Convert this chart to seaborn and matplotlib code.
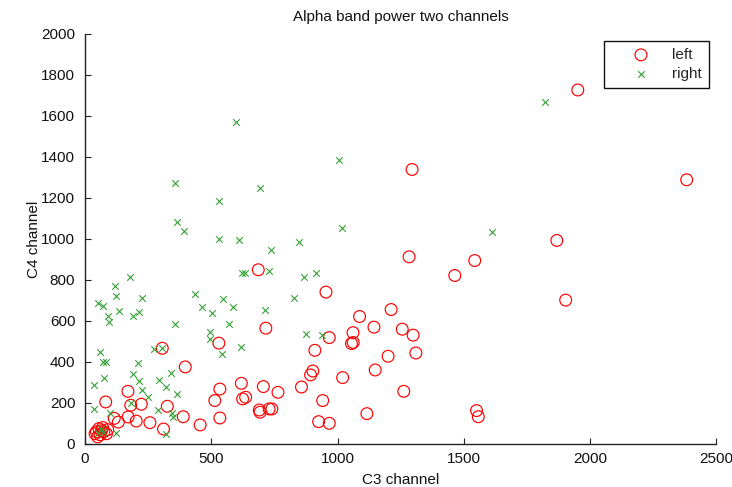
import matplotlib
matplotlib.use("Agg")
import matplotlib.pyplot as plt
import seaborn as sns
import pandas as pd

# Alpha band power per trial: C3 channel (x) vs C4 channel (y)
left_c3 = [1951, 2382, 1295, 1868, 1903, 1543, 1464, 1283, 686, 954,
           1212, 1087, 1144, 1256, 1061, 1299, 967, 716, 1055, 1062,
           910, 1310, 1200, 902, 893, 1149, 1020, 1262, 857, 706,
           764, 941, 690, 693, 729, 740, 1116, 925, 967, 1550,
           1557, 306, 530, 397, 170, 534, 619, 82, 181, 223,
           326, 514, 624, 636, 116, 132, 171, 203, 257, 311,
           389, 456, 534, 45, 55, 60, 70, 75, 85, 50,
           65, 90, 40]
left_c4 = [1727, 1289, 1339, 993, 702, 895, 822, 913, 850, 741,
           656, 622, 570, 560, 543, 531, 519, 565, 490, 495,
           457, 444, 428, 356, 337, 361, 324, 257, 278, 280,
           252, 212, 166, 155, 171, 171, 148, 109, 101, 163,
           133, 467, 492, 376, 257, 268, 296, 205, 189, 194,
           184, 212, 220, 228, 125, 107, 132, 112, 104, 73,
           133, 93, 127, 60, 75, 45, 80, 60, 50, 35,
           65, 70, 50]

right_c3 = [1822, 598, 1004, 357, 693, 530, 364, 391, 1018, 1612,
            530, 608, 737, 847, 622, 633, 727, 869, 914, 179,
            119, 123, 53, 70, 226, 133, 92, 94, 191, 212,
            435, 464, 504, 545, 587, 712, 826, 356, 571, 495,
            495, 617, 541, 273, 306, 61, 70, 82, 76, 36,
            211, 191, 214, 227, 249, 184, 36, 99, 294, 340,
            321, 363, 291, 343, 349, 123, 321, 873, 939, 50,
            62, 72]
right_c4 = [1667, 1572, 1387, 1273, 1249, 1187, 1084, 1039, 1056, 1032,
            998, 993, 947, 986, 833, 833, 845, 817, 833, 815,
            771, 724, 690, 674, 714, 649, 622, 597, 625, 643,
            731, 667, 640, 708, 667, 656, 713, 583, 587, 548,
            514, 474, 439, 462, 467, 451, 400, 400, 324, 290,
            394, 340, 308, 262, 229, 199, 171, 150, 314, 348,
            278, 244, 166, 150, 133, 52, 47, 537, 531, 55,
            75, 60]

x_ticks = [0, 500, 1000, 1500, 2000, 2500]
y_ticks = [0, 200, 400, 600, 800, 1000, 1200, 1400, 1600, 1800, 2000]

FS = 11

sns.set_theme(style="white")
plt.rcParams["font.family"] = ["Liberation Sans", "DejaVu Sans"]
plt.rcParams["font.size"] = FS

left_df = pd.DataFrame({"C3": left_c3, "C4": left_c4})
right_df = pd.DataFrame({"C3": right_c3, "C4": right_c4})

fig = plt.figure(figsize=(7.32, 4.87), dpi=100)
ax = fig.add_axes([0.1161, 0.0883, 0.8627, 0.8419])

sns.scatterplot(data=left_df, x="C3", y="C4", ax=ax, marker="o", s=72,
                color="#ff0000", facecolor="none", edgecolor="#ff0000",
                linewidth=0.85, label="left")
sns.scatterplot(data=right_df, x="C3", y="C4", ax=ax, marker="x", s=22,
                color="#34a034", linewidth=0.8, label="right")

ax.set_xlim(0, 2500)
ax.set_ylim(0, 2000)
ax.set_xticks(x_ticks)
ax.set_yticks(y_ticks)
ax.set_xticklabels([str(v) for v in x_ticks])
ax.set_yticklabels([str(v) for v in y_ticks])

for side in ("top", "right"):
    ax.spines[side].set_visible(False)
for side in ("left", "bottom"):
    ax.spines[side].set_color("#222222")
    ax.spines[side].set_linewidth(1.0)

ax.tick_params(axis="both", direction="in", length=4, width=0.8,
               color="#222222", labelsize=FS, labelcolor="#111111")
ax.tick_params(axis="y", pad=7, left=True)
ax.tick_params(axis="x", pad=5.5, bottom=True)

ax.set_xlabel("C3 channel", fontsize=FS, color="#111111", labelpad=5)
ax.set_ylabel("C4 channel", fontsize=FS, color="#111111", labelpad=0)
ax.set_title("Alpha band power two channels", fontsize=FS,
             color="#111111", pad=9)

leg = ax.legend(loc="upper right", bbox_to_anchor=(0.988, 0.983),
                borderaxespad=0, fancybox=False, frameon=True,
                borderpad=0.45, handlelength=3.9, handletextpad=0.1,
                labelspacing=0.34, fontsize=FS)
leg.get_frame().set_edgecolor("#111111")
leg.get_frame().set_linewidth(1.0)
leg.get_frame().set_alpha(1)

fig.savefig("out.png", dpi=100, facecolor="white")
